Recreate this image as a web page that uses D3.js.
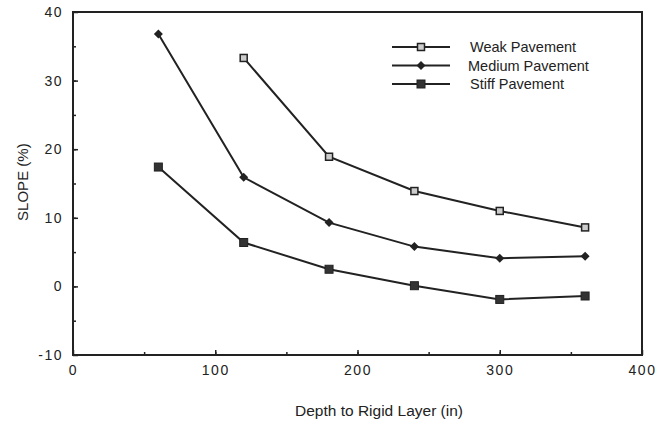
<!DOCTYPE html>
<html>
<head>
<meta charset="utf-8">
<script src="https://cdn.jsdelivr.net/npm/d3@7"></script>
<style>
  body { margin: 0; background: #fff; }
  text { font-family: Arial, "Liberation Sans", Helvetica, sans-serif; fill: #222; }
</style>
</head>
<body>
<div id="chart"></div>
<script>
// depth values (in) and slope series (%)
var depths = [60, 120, 180, 240, 300, 360];
var weak = [null, 33.3, 18.9, 13.9, 11.0, 8.6];
var medium = [36.8, 15.9, 9.3, 5.8, 4.1, 4.4];
var stiff = [17.4, 6.4, 2.5, 0.1, -1.9, -1.4];
var seriesNames = ['Weak Pavement', 'Medium Pavement', 'Stiff Pavement'];
var xTicks = [0, 100, 200, 300, 400];
var yTicks = [-10, 0, 10, 20, 30, 40];

var W = 671, H = 431;
var margin = {top: 12, right: 29, bottom: 76, left: 73};
var width = W - margin.left - margin.right,
    height = H - margin.top - margin.bottom;

var svg = d3.select('#chart').append('svg')
    .attr('width', W)
    .attr('height', H);
var chart = svg.append('g')
    .attr('transform', 'translate(' + margin.left + ',' + margin.top + ')');

// scales
var xScale = d3.scaleLinear().domain([0, 400]).range([0, width]);
var yScale = d3.scaleLinear().domain([-10, 40]).range([height, 0]);

// axes - inward ticks, majors and minors
function tickStyle(g) {
    g.select('.domain').remove();
    g.selectAll('line').style('stroke', '#222').style('stroke-width', 1.5);
}
function labelStyle(g) {
    g.selectAll('text')
        .style('font-size', '14px')
        .style('letter-spacing', '1.5px')
        .style('fill', '#222');
}
chart.append('g')
    .attr('transform', 'translate(0,' + height + ')')
    .call(d3.axisBottom(xScale).tickValues(d3.range(50, 400, 50)).tickSize(-3).tickFormat(''))
    .call(tickStyle);
chart.append('g')
    .attr('transform', 'translate(0,' + height + ')')
    .call(d3.axisBottom(xScale).tickValues(xTicks).tickSizeInner(-5).tickSizeOuter(0).tickPadding(10)
        .tickFormat(function(d) { return String(d); }))
    .call(tickStyle).call(labelStyle);
chart.append('g')
    .call(d3.axisLeft(yScale).tickValues(d3.range(-5, 40, 5)).tickSize(-3).tickFormat(''))
    .call(tickStyle);
chart.append('g')
    .call(d3.axisLeft(yScale).tickValues(yTicks).tickSizeInner(-5).tickSizeOuter(0).tickPadding(10)
        .tickFormat(function(d) { return String(d); }))
    .call(tickStyle).call(labelStyle);

// frame
chart.append('rect')
    .attr('width', width)
    .attr('height', height)
    .style('fill', 'none')
    .style('stroke', '#222')
    .style('stroke-width', 2);

// axis titles
svg.append('text')
    .text('Depth to Rigid Layer (in)')
    .attr('x', 379)
    .attr('y', 416)
    .attr('text-anchor', 'middle')
    .style('font-size', '15.5px');
svg.append('text')
    .text('SLOPE (%)')
    .attr('transform', 'translate(28,' + (margin.top + yScale(15.2)) + ') rotate(-90)')
    .attr('text-anchor', 'middle')
    .style('font-size', '15px');

// markers
function drawMarker(sel, kind) {
    if (kind === 0) {
        sel.append('rect')
            .attr('x', -3.5).attr('y', -3.5).attr('width', 7).attr('height', 7)
            .style('fill', '#ccc').style('stroke', '#222').style('stroke-width', 1.5);
    } else if (kind === 1) {
        sel.append('path')
            .attr('d', 'M0,-4.5L4.5,0L0,4.5L-4.5,0Z')
            .style('fill', '#222');
    } else {
        sel.append('rect')
            .attr('x', -4).attr('y', -4).attr('width', 8).attr('height', 8)
            .style('fill', '#333').style('stroke', '#222').style('stroke-width', 1);
    }
}

var allSeries = [weak, medium, stiff];
var line = d3.line()
    .defined(function(d) { return d != null; })
    .x(function(d, i) { return xScale(depths[i]); })
    .y(function(d) { return yScale(d); });

allSeries.forEach(function(s, k) {
    chart.append('path')
        .datum(s)
        .attr('d', line)
        .style('fill', 'none')
        .style('stroke', '#222')
        .style('stroke-width', 2);
    s.forEach(function(v, i) {
        if (v == null) return;
        var g = chart.append('g')
            .attr('transform', 'translate(' + xScale(depths[i]) + ',' + yScale(v) + ')');
        drawMarker(g, k);
    });
});

// legend
var legend = svg.append('g').attr('transform', 'translate(392,47)');
seriesNames.forEach(function(name, k) {
    var row = legend.append('g').attr('transform', 'translate(0,' + (k * 18.5) + ')');
    row.append('line')
        .attr('x1', 0).attr('x2', 58)
        .style('stroke', '#222').style('stroke-width', 2);
    drawMarker(row.append('g').attr('transform', 'translate(29,0)'), k);
    row.append('text')
        .text(name)
        .attr('x', 78 - (k === 1 ? 2 : 0))
        .attr('y', 5)
        .style('font-size', '14.5px');
});
</script>
</body>
</html>
